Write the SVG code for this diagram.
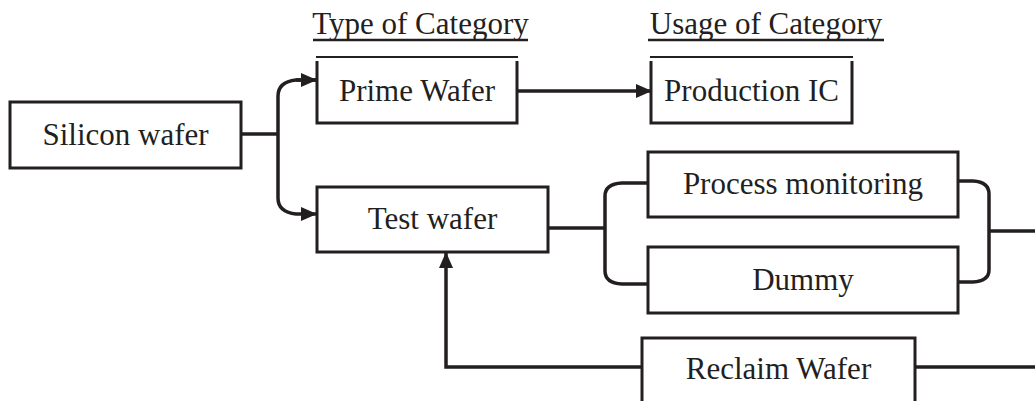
<svg xmlns="http://www.w3.org/2000/svg" width="1035" height="401" viewBox="0 0 1035 401">
<style>
.box{fill:#fff;stroke:#231f20;stroke-width:3}
.thin{stroke:#231f20;stroke-width:1.8;fill:none}
.side{fill:none;stroke:#231f20;stroke-width:3}
.t{font-family:"Liberation Serif","Times New Roman",serif;font-size:31px;fill:#231f20;text-anchor:middle}
.c{fill:none;stroke:#231f20;stroke-width:3.5}
.ul{stroke:#231f20;stroke-width:2.5}
</style>
<defs>
<marker id="ah" viewBox="0 0 16 14" refX="15" refY="7" markerWidth="16" markerHeight="14" markerUnits="userSpaceOnUse" orient="auto">
<path d="M0,0 L16,7 L0,14 Z" fill="#231f20"/>
</marker>
</defs>
<rect width="1035" height="401" fill="#fff"/>

<g id="headers">
<text class="t" x="420.5" y="34">Type of Category</text>
<line class="ul" x1="313" y1="40" x2="528" y2="40"/>
<text class="t" x="766" y="34">Usage of Category</text>
<line class="ul" x1="648" y1="40" x2="884" y2="40"/>
</g>

<g id="connectors">
<path class="c" d="M241,134 H278"/>
<path class="c" d="M316,80 H296 Q278,82 278,96 V198 Q278,212 296,214 H316" marker-end="url(#ah)"/>
<path class="c" d="M296,80 H316" marker-end="url(#ah)"/>
<path class="c" d="M517,91 H651" marker-end="url(#ah)"/>
<path class="c" d="M548,228 H605"/>
<path class="c" d="M648,183 H622 Q605,184 605,196 V271 Q605,283 622,284 H648"/>
<path class="c" d="M958,181 H973 Q989,182 989,194 V270 Q989,281 973,282 H958"/>
<path class="c" d="M989,231 H1035"/>
<path class="c" d="M915,367 H1035"/>
<path class="c" d="M642,367 H446 V253" marker-end="url(#ah)"/>
</g>

<g id="silicon-wafer">
<rect class="box" x="10" y="102" width="231" height="66"/>
<text class="t" x="125.5" y="145">Silicon wafer</text>
</g>

<g id="prime-wafer">
<rect x="317" y="57" width="200" height="66" fill="#fff"/>
<line class="thin" x1="316" y1="57" x2="518" y2="57"/>
<path class="side" d="M317,61 V123 H517 V61"/>
<text class="t" x="417" y="101">Prime Wafer</text>
</g>

<g id="production-ic">
<rect x="651" y="57" width="201" height="66" fill="#fff"/>
<line class="thin" x1="650" y1="57" x2="853" y2="57"/>
<path class="side" d="M651,61 V123 H852 V61"/>
<text class="t" x="751.5" y="101">Production IC</text>
</g>

<g id="test-wafer">
<rect class="box" x="317" y="187" width="231" height="65"/>
<text class="t" x="432.5" y="229">Test wafer</text>
</g>

<g id="process-monitoring">
<rect class="box" x="648" y="152" width="310" height="65"/>
<text class="t" x="803" y="194">Process monitoring</text>
</g>

<g id="dummy">
<rect class="box" x="648" y="247" width="310" height="66"/>
<text class="t" x="803" y="290">Dummy</text>
</g>

<g id="reclaim-wafer">
<rect class="box" x="642" y="338" width="273" height="70"/>
<text class="t" x="778.5" y="379">Reclaim Wafer</text>
</g>
</svg>
